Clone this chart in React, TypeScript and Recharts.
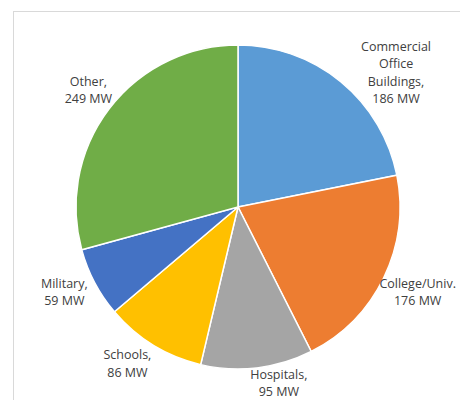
import React from 'react'
import { Cell, Pie, PieChart } from 'recharts'

const categories = [
  'Commercial Office Buildings',
  'College/Univ.',
  'Hospitals',
  'Schools',
  'Military',
  'Other'
]
const capacityMW = [186, 176, 95, 86, 59, 249]
const labelLines = [
  ['Commercial', 'Office', 'Buildings,'],
  ['College/Univ.'],
  ['Hospitals,'],
  ['Schools,'],
  ['Military,'],
  ['Other,']
]
const colors = ['#5B9BD5', '#ED7D31', '#A5A5A5', '#FFC000', '#4472C4', '#70AD47']

// hand-tuned label offsets, Excel "best fit" style
const labelNudge = [
  [30, 21],
  [-2, -4],
  [17, -25],
  [-5, -16],
  [5, -10],
  [11, 5]
]

const data = categories.map((name, i) => ({ name, value: capacityMW[i], idx: i }))

const RADIAN = Math.PI / 180
const LINE_H = 17.5

const renderLabel = (props: any) => {
  const { cx, cy, midAngle, outerRadius, payload, value } = props
  const i = payload.idx
  const r = outerRadius + 40
  const x = cx + r * Math.cos(-midAngle * RADIAN) + labelNudge[i][0]
  const y = cy + r * Math.sin(-midAngle * RADIAN) + labelNudge[i][1]
  const lines = [...labelLines[i], `${value} MW`]
  const top = y - ((lines.length - 1) * LINE_H) / 2
  return (
    <text
      x={x}
      y={top}
      textAnchor="middle"
      dominantBaseline="central"
      fill="#404040"
      fontSize={12.5}
      fontFamily="'Open Sans', sans-serif"
    >
      {lines.map((l, k) => (
        <tspan key={k} x={x} y={top + k * LINE_H}>
          {l}
        </tspan>
      ))}
    </text>
  )
}

export default function App() {
  return (
    <div style={{ position: 'absolute', left: 0, top: 0, width: 460, height: 400, overflow: 'hidden', background: '#fff' }}>
      <div
        style={{
          position: 'absolute',
          left: 13,
          top: 11,
          width: 460,
          height: 400,
          border: '1px solid #d9d9d9'
        }}
      />
      <div style={{ position: 'absolute', left: 0, top: 0 }}>
        <PieChart width={460} height={400} margin={{ top: 0, right: 0, bottom: 0, left: 0 }}>
          <Pie
            data={data}
            dataKey="value"
            nameKey="name"
            cx={238}
            cy={207}
            outerRadius={162}
            startAngle={90}
            endAngle={-270}
            stroke="#fff"
            strokeWidth={1.5}
            label={renderLabel}
            labelLine={false}
            isAnimationActive={false}
          >
            {data.map((d, i) => (
              <Cell key={d.name} fill={colors[i]} />
            ))}
          </Pie>
        </PieChart>
      </div>
    </div>
  )
}
